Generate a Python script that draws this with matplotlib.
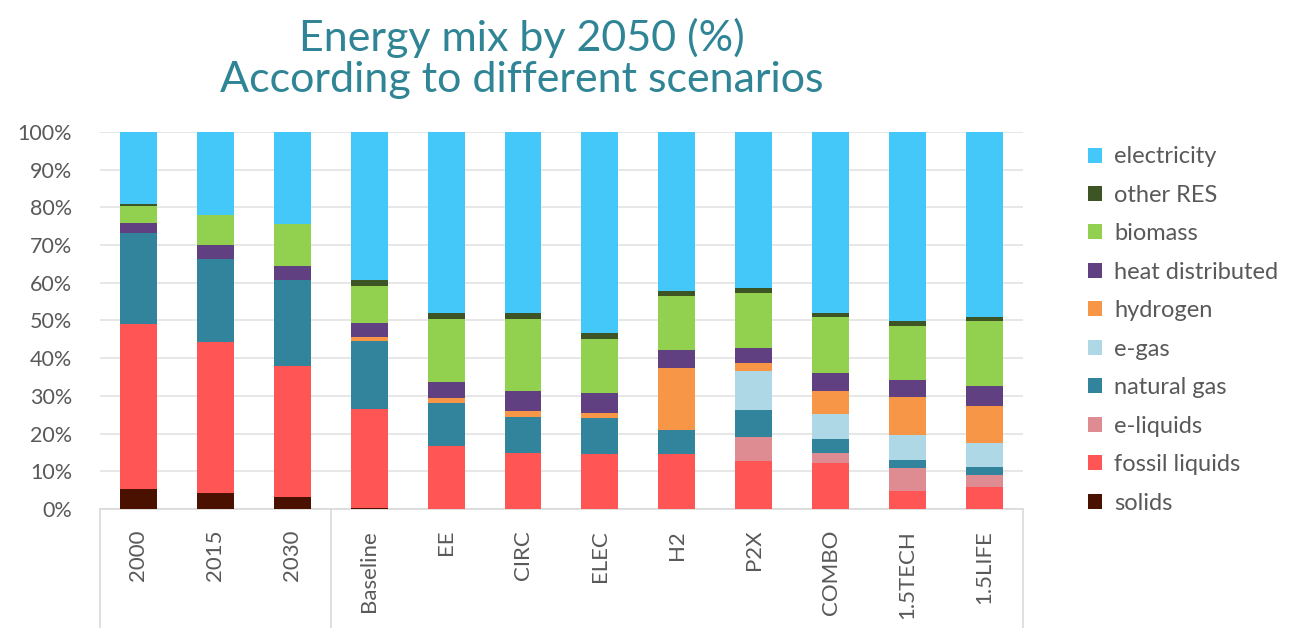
import matplotlib
matplotlib.use("Agg")
import matplotlib.pyplot as plt
import numpy as np
from matplotlib.patches import Patch

categories = ["2000", "2015", "2030", "Baseline", "EE", "CIRC", "ELEC", "H2", "P2X", "COMBO", "1.5TECH", "1.5LIFE"]

solids         = [5.2, 4.2, 3.3, 0.3, 0, 0, 0, 0, 0, 0, 0, 0]
fossil_liquids = [43.8, 40.0, 34.6, 26.3, 16.8, 14.9, 14.5, 14.5, 12.8, 12.1, 4.9, 5.9]
e_liquids      = [0, 0, 0, 0, 0, 0, 0, 0, 6.4, 2.8, 5.9, 3.1]
natural_gas    = [24.1, 22.0, 22.7, 18.0, 11.4, 9.6, 9.6, 6.5, 7.1, 3.6, 2.2, 2.2]
e_gas          = [0, 0, 0, 0, 0, 0, 0, 0, 10.4, 6.7, 6.6, 6.2]
hydrogen       = [0, 0, 0, 1.0, 1.1, 1.5, 1.3, 16.3, 1.9, 6.2, 10.2, 9.9]
heat_distrib   = [2.8, 3.8, 3.9, 3.8, 4.5, 5.3, 5.3, 4.9, 4.1, 4.6, 4.4, 5.3]
biomass        = [4.5, 8.0, 11.0, 9.6, 16.6, 19.1, 14.3, 14.4, 14.5, 14.8, 14.3, 17.3]
other_res      = [0.5, 0, 0, 1.6, 1.7, 1.7, 1.6, 1.3, 1.5, 1.3, 1.4, 1.1]
electricity    = [19.1, 22.0, 24.5, 39.4, 47.9, 47.9, 53.4, 42.1, 41.3, 47.9, 50.1, 49.0]

series_names = ["solids", "fossil liquids", "e-liquids", "natural gas", "e-gas",
                "hydrogen", "heat distributed", "biomass", "other RES", "electricity"]
series_vals = [solids, fossil_liquids, e_liquids, natural_gas, e_gas,
               hydrogen, heat_distrib, biomass, other_res, electricity]
series_colors = ["#4a1000", "#ff5555", "#de8c91", "#31849b", "#afd8e6",
                 "#f79646", "#604080", "#92d050", "#3d5424", "#44c8fa"]

fig = plt.figure(figsize=(12.95, 6.28), dpi=100)
ax = fig.add_axes([0.0772, 0.1895, 0.7127, 0.6005])

x = np.arange(len(categories))
bottom = np.zeros(len(categories))
for name, vals, col in zip(series_names, series_vals, series_colors):
    v = np.array(vals, dtype=float)
    ax.bar(x, v, bottom=bottom, width=0.48, color=col, label=name, zorder=3, linewidth=0)
    bottom += v

ax.set_xlim(-0.5, len(categories) - 0.5)
ax.set_ylim(0, 100)
ax.set_yticks(np.arange(0, 101, 10))
ax.set_yticklabels([f"{v}%" for v in range(0, 101, 10)], fontsize=15.5, color="#595959",
                   family="Lato")
ax.yaxis.grid(True, color="#e3e3e3", linewidth=1.2, zorder=0)
ax.tick_params(axis="y", length=0, pad=20)
ax.tick_params(axis="x", length=0, pad=15)
ax.set_xticks(x)
ax.set_xticklabels(categories, rotation=90, fontsize=16, color="#595959", family="Lato",
                   va="top")
for s in ["top", "right", "left"]:
    ax.spines[s].set_visible(False)
ax.spines["bottom"].set_color("#d9d9d9")
ax.spines["bottom"].set_linewidth(1.2)

# category frame lines below the axis
trans = ax.get_xaxis_transform()
for xv in [-0.5, 2.5, len(categories) - 0.5]:
    ax.plot([xv, xv], [0, -0.32], transform=trans, color="#d9d9d9", lw=1.2, clip_on=False)

# legend
handles = [Patch(facecolor=c, edgecolor="none", label=n)
           for n, c in zip(series_names, series_colors)][::-1]
leg = fig.legend(handles=handles, loc="upper left", bbox_to_anchor=(0.833, 0.782),
                 frameon=False, labelspacing=0.74, handlelength=0.6,
                 handleheight=0.6, handletextpad=0.5, borderaxespad=0,
                 prop={"family": "Lato", "size": 17})
for t in leg.get_texts():
    t.set_color("#595959")

fig.text(0.403, 0.94, "Energy mix by 2050 (%)", ha="center", va="center",
         fontsize=31, color="#2f8595", family="Lato")
fig.text(0.403, 0.873, "According to different scenarios", ha="center", va="center",
         fontsize=31, color="#2f8595", family="Lato")

fig.savefig("out.png", dpi=100)
